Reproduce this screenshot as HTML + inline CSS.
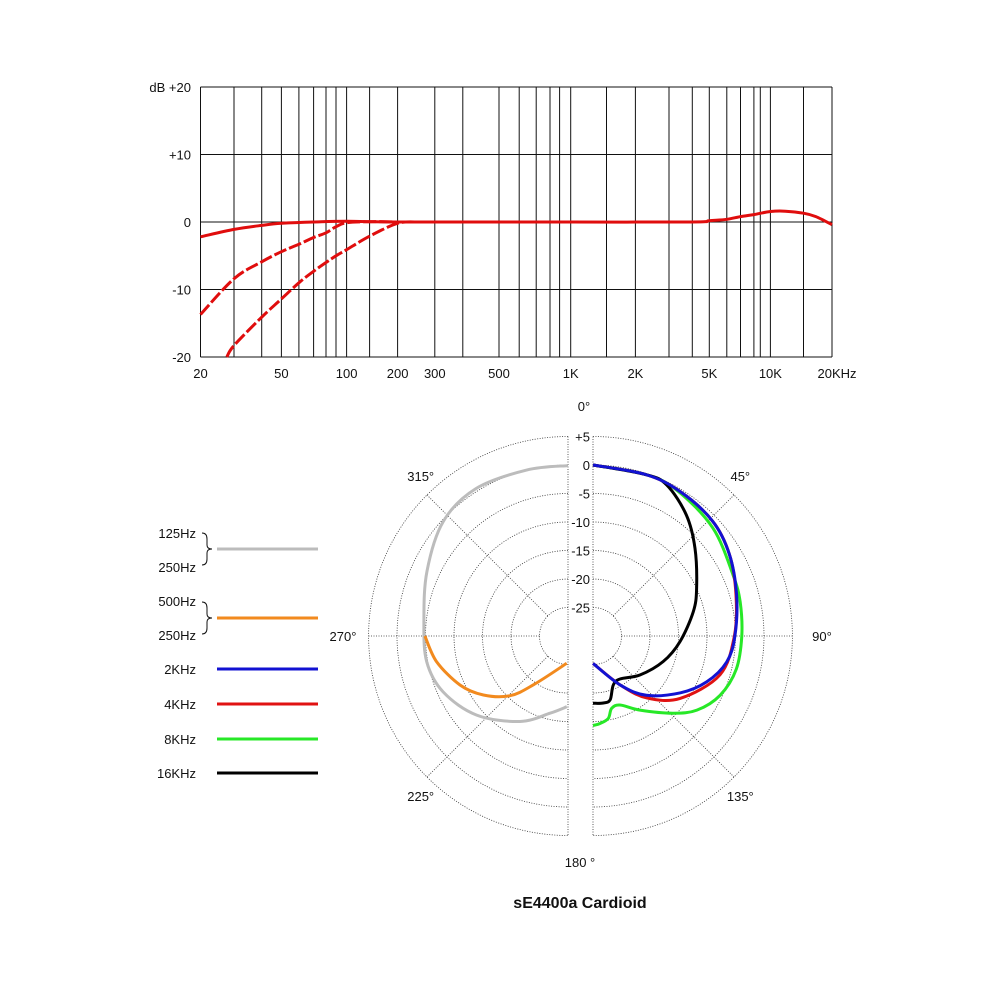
<!DOCTYPE html>
<html><head><meta charset="utf-8">
<style>
html,body{margin:0;padding:0;background:#fff;}
svg{display:block;}
text{font-family:"Liberation Sans Narrow","Liberation Sans",sans-serif;fill:#111;}
</style></head>
<body>
<svg id="chart" width="1000" height="1000" viewBox="0 0 1000 1000">
<g id="freq"></g>
<g id="polar"></g>
<g id="legend"></g>
<text x="580" y="908" text-anchor="middle" font-size="16" font-weight="bold" style="font-family:'Liberation Sans',sans-serif">sE4400a  Cardioid</text>
</svg>
<script>
// ---------- Frequency response data ----------
const gridFreqs = [20,30,40,50,60,70,80,90,100,150,200,300,400,500,600,700,800,900,1000,1500,2000,3000,4000,5000,6000,7000,8000,9000,10000,15000,20000];
const xTickFreqs = [20,50,100,200,300,500,1000,2000,5000,10000,20000];
const xTickLabels = ["20","50","100","200","300","500","1K","2K","5K","10K","20KHz"];
const yTickValues = [20,10,0,-10,-20];
const yTickLabels = ["dB  +20","+10","0","-10","-20"];
const flatFreqs = [20,30,40,50,70,100,200,500,1000,4000,5000,6000,7000,8000,10000,12000,15000,17000,20000];
const flatDb    = [-2.2,-1.1,-0.5,-0.2,0,0.1,0,0,0,0,0.2,0.4,0.8,1.1,1.55,1.6,1.3,0.8,-0.4];
const cut1Freqs = [20,30,40,50,60,70,80,90,100,150,200];
const cut1Db    = [-13.7,-8.4,-5.9,-4.4,-3.3,-2.3,-1.6,-0.7,-0.1,0.05,0];
const cut2Freqs = [27.5,30,40,50,60,70,80,90,100,150,200,250];
const cut2Db    = [-20,-18.3,-14.1,-11.4,-9.0,-7.3,-6.0,-5.0,-4.1,-2.1,-0.2,0];

// ---------- Polar data (angle deg clockwise from top, dB) ----------
const ang2k  = [0,18,31,46,59,74,90,101,112,123,138,151,180];
const db2k   = [0,-0.2,-0.4,-0.9,-2.1,-3.8,-5.1,-6.1,-8.5,-11.7,-16,-20.2,-25.2];
const ang4k  = [0,18,31,46,59,74,90,107,125.6,139,151,180];
const db4k   = [0,-0.2,-0.4,-0.9,-2.1,-3.9,-5.2,-6.7,-11.2,-15.6,-20.2,-25.2];
const ang8k  = [0,18,30,48,66.5,77,90,103,115,125.5,134,147.6,158.6,165.5,169.5,175.4,180];
const db8k   = [0,-0.2,-0.5,-1.7,-3.2,-3.5,-3.9,-4.2,-5.4,-7.6,-10.5,-14.6,-17,-16.9,-15.3,-14.6,-14.3];
const ang16k = [0,18,26,37.7,49.3,65.3,76.4,93.7,110,129.7,147.9,157.5,165,171.3,180];
const db16k  = [0,-0.2,-0.5,-3.2,-6.4,-10,-11.9,-14.7,-16.9,-19.3,-21.1,-20.7,-18.4,-18.1,-18.2];
const angLow = [360,346,328,312.5,294.5,275.7,259.7,245.9,229.1,209.3,193.1,181];
const dbLow  = [-0.1,0,0.5,-0.3,-2.8,-4.6,-4.8,-6,-8.8,-12.8,-16.1,-17.6];
const angMid = [270,259,245.6,235.1,224.2,215.3,182.7];
const dbMid  = [-4.9,-6.5,-9.2,-11.9,-15.4,-19.5,-25.2];
const ringDb = [5,0,-5,-10,-15,-20,-25];
const ringLabels = ["+5","0","-5","-10","-15","-20","-25"];
const angleLabels = ["0°","45°","90°","135°","180 °","225°","270°","315°"];
const angleLabelAngles = [0,45,90,135,180,225,270,315];

const NS="http://www.w3.org/2000/svg";
function mk(tag,attrs,parent){const e=document.createElementNS(NS,tag);for(const k in attrs)e.setAttribute(k,attrs[k]);parent.appendChild(e);return e;}

// ---- freq axis (piecewise log between calibrated knots) ----
const knotF=[20,30,40,50,60,70,80,90,100,150,200,300,400,500,600,700,800,900,1000,1500,2000,3000,4000,5000,6000,7000,8000,9000,10000,15000,20000];
const knotX=[200.5,234,261.7,281.4,298.9,313.6,326,336,346.6,369.6,397.6,434.8,462.8,499,519.2,536.2,550,559.6,570.7,606.5,635.4,669,692.3,709.3,726.8,740.5,753.9,760.3,770.4,803.5,832];
function xF(f){const lf=Math.log(f);for(let i=0;i<knotF.length-1;i++){const a=Math.log(knotF[i]),b=Math.log(knotF[i+1]);if(lf<=b||i===knotF.length-2){return knotX[i]+(lf-a)/(b-a)*(knotX[i+1]-knotX[i]);}}}
function yDb(d){return 222-d*6.75;}

const fg=document.getElementById('freq');
for(const v of yTickValues){
  const l=mk('line',{x1:200.5,x2:832,y1:yDb(v),y2:yDb(v),stroke:'#111','stroke-width':1},fg);
  
  
}
for(const f of gridFreqs){
  const l=mk('line',{x1:xF(f),x2:xF(f),y1:yDb(20),y2:yDb(-20),stroke:'#111','stroke-width':1},fg);
  
  
}
yTickValues.forEach((v,i)=>{
  const t=mk('text',{x:191,y:yDb(v)+5,'text-anchor':'end','font-size':13},fg);
  t.textContent=yTickLabels[i];
  
  
});
xTickFreqs.forEach((f,i)=>{
  const t=mk('text',{x:xF(f)+(i===10?5:0),y:378,'text-anchor':'middle','font-size':13},fg);
  t.textContent=xTickLabels[i];
  
  
});
function smoothPath(pts){
  let d='M'+pts[0][0].toFixed(1)+','+pts[0][1].toFixed(1);
  for(let i=0;i<pts.length-1;i++){
    const p0=pts[Math.max(0,i-1)],p1=pts[i],p2=pts[i+1],p3=pts[Math.min(pts.length-1,i+2)];
    const c1=[p1[0]+(p2[0]-p0[0])/6,p1[1]+(p2[1]-p0[1])/6],c2=[p2[0]-(p3[0]-p1[0])/6,p2[1]-(p3[1]-p1[1])/6];
    d+=' C'+c1.map(n=>n.toFixed(1)).join(',')+' '+c2.map(n=>n.toFixed(1)).join(',')+' '+p2[0].toFixed(1)+','+p2[1].toFixed(1);
  }
  return d;
}
function freqCurve(fs,ds,dash,name){
  const pts=fs.map((f,i)=>[xF(f),yDb(ds[i])]);
  const p=mk('path',{d:smoothPath(pts),fill:'none',stroke:'#e00d0d','stroke-width':3,'stroke-linecap':'butt'},fg);
  if(dash)p.setAttribute('stroke-dasharray',dash);
  
  
}
freqCurve(cut2Freqs,cut2Db,'13 3','response-highpass-2');
freqCurve(cut1Freqs,cut1Db,'13 3','response-highpass-1');
freqCurve(flatFreqs,flatDb,null,'response-flat');

// ---- polar ----
const pg=document.getElementById('polar');
const CY=636, CXR=593, CXL=568;
function rDb(d){return 171+5.7*d;}
function pxy(a,d){const cx=(a>180.01||a===360)?CXL:CXR;const r=rDb(d),t=a*Math.PI/180;return [cx+r*Math.sin(t),CY-r*Math.cos(t)];}
const dot={stroke:'#333','stroke-width':0.8,'stroke-dasharray':'1 1.5',fill:'none'};
ringDb.forEach(db=>{
  const r=rDb(db);
  const a=mk('path',Object.assign({d:`M${CXR},${CY-r} A${r},${r} 0 0 1 ${CXR},${CY+r}`},dot),pg);
  
  
  const b=mk('path',Object.assign({d:`M${CXL},${CY-r} A${r},${r} 0 0 0 ${CXL},${CY+r}`},dot),pg);
  
  
});
const R0=rDb(-25),R1=rDb(5);
[[CXR,1],[CXL,-1]].forEach(([cx,s])=>{
  const v=mk('line',Object.assign({x1:cx,x2:cx,y1:CY-R1,y2:CY+R1},dot),pg);
  
  
  const h=mk('line',Object.assign({x1:cx+s*R0,x2:cx+s*R1,y1:CY,y2:CY},dot),pg);
  
  
  [45,135].forEach(a=>{
    const t=a*Math.PI/180;
    const d=mk('line',Object.assign({x1:cx+s*R0*Math.sin(t),y1:CY-R0*Math.cos(t),x2:cx+s*R1*Math.sin(t),y2:CY-R1*Math.cos(t)},dot),pg);
    
    
  });
});
ringDb.forEach((db,i)=>{
  const t=mk('text',{x:590,y:CY-rDb(db)+5,'text-anchor':'end','font-size':13},pg);
  t.textContent=ringLabels[i];
  
  
});
angleLabelAngles.forEach((a,i)=>{
  const t0=a*Math.PI/180, r=226;
  let x=580.5+r*Math.sin(t0), y=CY-r*Math.cos(t0)+5;
  if(a===0){y=411;x=584;} if(a===180){y=867;x=580;}
  if(a===90){x=822;} if(a===270){x=343;}
  const t=mk('text',{x:x,y:y,'text-anchor':'middle','font-size':13},pg);
  t.textContent=angleLabels[i];
  
  
});
function polarCurve(as,ds,color,name){
  const pts=as.map((a,i)=>pxy(a,ds[i]));
  const p=mk('path',{d:smoothPath(pts),fill:'none',stroke:color,'stroke-width':3,'stroke-linejoin':'round'},pg);
  
  
}
polarCurve(angLow,dbLow,'#bcbcbc','curve-125-250hz');
polarCurve(angMid,dbMid,'#f28a1e','curve-250-500hz');
polarCurve(ang8k,db8k,'#27e827','curve-8khz');
polarCurve(ang4k,db4k,'#e01212','curve-4khz');
polarCurve(ang16k,db16k,'#000000','curve-16khz');
polarCurve(ang2k,db2k,'#1212d2','curve-2khz');

// ---- legend ----
const lg=document.getElementById('legend');
const legendColors=['#bcbcbc','#f28a1e','#1212d2','#e01212','#27e827','#000000'];
const legendY=[549,618,669,704,739,773];
const legendNames=['125-250hz','250-500hz','2khz','4khz','8khz','16khz'];
legendColors.forEach((c,i)=>{
  const l=mk('line',{x1:217,x2:318,y1:legendY[i],y2:legendY[i],stroke:c,'stroke-width':3},lg);
  
  
});
const legendText=[['125Hz',538],['250Hz',572],['500Hz',606],['250Hz',640],['2KHz',674],['4KHz',709],['8KHz',744],['16KHz',778]];
legendText.forEach(([s,y])=>{
  const t=mk('text',{x:196,y:y,'text-anchor':'end','font-size':13},lg);
  t.textContent=s;
  
  
});
[549,618].forEach(y=>{
  const b=mk('path',{d:`M202,${y-16} Q207,${y-16} 207,${y-10} L207,${y-4} Q207,${y} 212,${y} Q207,${y} 207,${y+4} L207,${y+10} Q207,${y+16} 202,${y+16}`,fill:'none',stroke:'#111','stroke-width':1},lg);
  
  
});
</script>
</body></html>
